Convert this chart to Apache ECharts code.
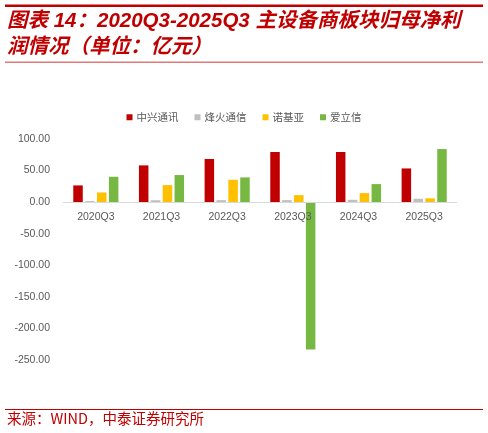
<!DOCTYPE html>
<html><head><meta charset="utf-8">
<script src="https://cdn.jsdelivr.net/npm/echarts@6/dist/echarts.min.js"></script>
<style>html,body{margin:0;padding:0;background:#fff}#c{width:488px;height:433px}</style>
</head><body><div id="c"></div>
<script>
const categories = ['2020Q3','2021Q3','2022Q3','2023Q3','2024Q3','2025Q3'];
const zte = [26.5, 58.2, 68.3, 79.4, 79.4, 53.4];
const fiberhome = [1.6, 3.0, 3.2, 3.2, 3.7, 5.3];
const nokia = [15.3, 27.0, 35.4, 11.1, 14.3, 6.0];
const ericsson = [40.2, 42.9, 39.2, -233.5, 28.6, 84.1];
const seriesNames = ['中兴通讯','烽火通信','诺基亚','爱立信'];
const colors = ['#C00000','#BFBFBF','#FFC000','#77B843'];
const titleLine1 = '图表 14：2020Q3-2025Q3 主设备商板块归母净利';
const titleLine2 = '润情况（单位：亿元）';
const sourceText = '来源：WIND，中泰证券研究所';

const chart = echarts.init(document.getElementById('c'));
const dataSets = [zte, fiberhome, nokia, ericsson];
const titleFont = "'Liberation Sans','Noto Sans CJK SC',sans-serif";
const gridTop = 139, gridBottomPx = 360, yMin = -250, yMax = 100;
const zeroOffset = -(gridBottomPx - (gridTop + (yMax - 0) / (yMax - yMin) * (gridBottomPx - gridTop)));
chart.setOption({
  animation: false,
  color: colors,
  grid: {left: 63, right: 31, top: gridTop, bottom: 433 - gridBottomPx, containLabel: false},
  legend: {
    top: 107, left: 'center', itemWidth: 6, itemHeight: 6, itemGap: 16,
    icon: 'rect',
    textStyle: {color: '#595959', fontSize: 10.5, padding: [0, 0, 0, -1], fontFamily: "'Noto Sans CJK SC',sans-serif"},
    data: seriesNames
  },
  xAxis: {
    type: 'category', data: categories,
    offset: zeroOffset, z: 5,
    axisLine: {onZero: false, lineStyle: {color: '#D9D9D9', width: 1}},
    axisTick: {show: false},
    axisLabel: {color: '#595959', fontSize: 10.5, margin: 9, fontFamily: "'Liberation Sans',sans-serif"}
  },
  yAxis: {
    type: 'value', min: yMin, max: yMax, interval: 50,
    axisLine: {show: false}, axisTick: {show: false},
    splitLine: {show: false},
    axisLabel: {color: '#595959', fontSize: 10.5, margin: 13, fontFamily: "'Liberation Sans',sans-serif",
      formatter: v => v.toFixed(2)}
  },
  series: seriesNames.map((n, i) => ({
    name: n, type: 'bar', data: dataSets[i], barWidth: 9.5, barGap: '25%',
    itemStyle: {color: colors[i]}
  })),
  graphic: [
    {type: 'rect', shape: {x: 5, y: 4.5, width: 478, height: 2.5}, style: {fill: '#C00000'}},
    {type: 'text', left: 7, top: 11, style: {text: titleLine1, fill: '#C00000', font: "italic bold 20.5px " + titleFont}},
    {type: 'text', left: 7, top: 37.5, style: {text: titleLine2, fill: '#C00000', font: "italic bold 20.5px " + titleFont}},
    {type: 'rect', shape: {x: 5, y: 61.5, width: 478, height: 1.5}, style: {fill: '#E07B7B'}},
    {type: 'rect', shape: {x: 5, y: 409, width: 478, height: 1}, style: {fill: '#C00000'}},
    {type: 'text', left: 7, top: 411.5, style: {text: sourceText, fill: '#C00000', font: "14.5px 'Noto Sans CJK SC',sans-serif"}}
  ]
});
</script></body></html>
